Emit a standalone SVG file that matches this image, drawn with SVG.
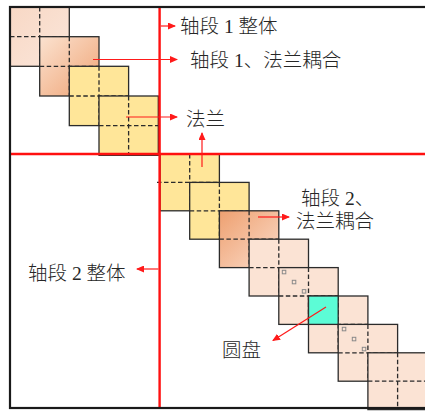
<svg xmlns="http://www.w3.org/2000/svg" width="425" height="411" viewBox="0 0 425 411">
<style>
.blk{stroke:#2b2b2b;stroke-width:1.3}
.dash{stroke:#2b2b2b;stroke-width:1.3;stroke-dasharray:4.5 2.5;fill:none}
.pe{fill:#fbe3d4}
.ye{fill:#ffe699}
.red{stroke:#ff1010;stroke-width:2.4;fill:none}
.arr{stroke:#ff1a1a;stroke-width:1.2;fill:none;marker-end:url(#ah)}
.sq{fill:none;stroke:#8a8a8a;stroke-width:1}
text{font-family:"Liberation Serif","Noto Sans CJK SC",serif;font-size:19.5px;font-weight:300;fill:#262626}
</style>
<defs>
<linearGradient id="gU" x1="0" y1="0" x2="1" y2="1"><stop offset="0" stop-color="#fbe2d0"/><stop offset="1" stop-color="#efa374"/></linearGradient>
<linearGradient id="gL" x1="0" y1="0" x2="1" y2="1"><stop offset="0" stop-color="#eea070"/><stop offset="1" stop-color="#fbdcca"/></linearGradient>
<linearGradient id="gP" x1="0" y1="0" x2="1" y2="1"><stop offset="0" stop-color="#f8d8c5"/><stop offset="1" stop-color="#fbe6da"/></linearGradient>
<marker id="ah" markerWidth="8" markerHeight="7" refX="7" refY="3.5" orient="auto" markerUnits="userSpaceOnUse"><path d="M0,0 L8,3.5 L0,7 z" fill="#ff1a1a"/></marker>
</defs>
<rect x="0" y="0" width="425" height="411" fill="#ffffff"/>

<!-- upper blocks -->
<g id="u0"><rect class="blk" x="10" y="7" width="59.3" height="59.3" fill="url(#gP)"/><path class="dash" d="M39.7,7V66.3M10,36.7H69.3"/></g>
<g id="u1"><rect class="blk" x="39.7" y="36.7" width="59.3" height="59.3" fill="url(#gU)"/><path class="dash" d="M69.3,36.7V96M39.7,66.3H99"/></g>
<g id="u2"><rect class="blk ye" x="69.3" y="66.3" width="59.3" height="59.3"/><path class="dash" d="M99,66.3V125.6M69.3,96H128.6"/></g>
<g id="u3"><rect class="blk ye" x="99" y="96" width="59.3" height="59.3"/><path class="dash" d="M128.6,96V155.3M99,125.6H158.3"/></g>

<!-- lower blocks -->
<g id="l0"><rect class="blk ye" x="160" y="154" width="59.4" height="56.8"/><path class="dash" d="M189.7,154V210.8M157,182.4H219.4"/></g>
<g id="l1"><rect class="blk ye" x="189.7" y="182.4" width="59.4" height="56.8"/><path class="dash" d="M219.4,182.4V239.2M189.7,210.8H249.1"/></g>
<g id="l2"><rect class="blk" x="219.4" y="210.8" width="59.4" height="56.8" fill="url(#gL)"/><path class="dash" d="M249.1,210.8V267.6M219.4,239.2H278.8"/></g>
<g id="l3"><rect class="blk pe" x="249.1" y="239.2" width="59.4" height="56.8"/><path class="dash" d="M278.8,239.2V296M249.1,267.6H308.5"/></g>
<g id="l4"><rect class="blk pe" x="278.8" y="267.6" width="59.4" height="56.8"/><path class="dash" d="M308.5,267.6V324.4M278.8,296H338.2"/>
<rect class="sq" x="282.3" y="270.3" width="3.5" height="3.5"/><rect class="sq" x="292.3" y="280.3" width="3.5" height="3.5"/><rect class="sq" x="302.3" y="289.6" width="3.5" height="3.5"/></g>
<g id="l5"><rect class="blk pe" x="308.5" y="296" width="59.4" height="56.8"/><path class="dash" d="M338.2,296V352.8M308.5,324.4H367.9"/></g>
<g id="disk"><rect class="blk" x="308.5" y="296" width="29.7" height="28.4" fill="#5cfcd6"/></g>
<g id="l6"><rect class="blk pe" x="338.2" y="324.4" width="59.4" height="56.8"/><path class="dash" d="M367.9,324.4V381.2M338.2,352.8H397.6"/>
<rect class="sq" x="342.3" y="327.3" width="3.5" height="3.5"/><rect class="sq" x="352.3" y="337.3" width="3.5" height="3.5"/><rect class="sq" x="362.3" y="347.3" width="3.5" height="3.5"/></g>
<g id="l7"><rect class="blk pe" x="367.9" y="352.8" width="59.4" height="56.8"/><path class="dash" d="M397.6,352.8V409.6M367.9,381.2H427.3"/></g>

<!-- red division lines -->
<g id="dividers">
<path class="red" d="M159.6,7V408"/>
<path class="red" d="M10,154H425"/>
</g>

<!-- frame -->
<rect x="10" y="7" width="420" height="401" fill="none" stroke="#1a1a1a" stroke-width="2.2"/>

<!-- connectors -->
<g id="connectors">
<path class="arr" d="M160.8,26H175"/>
<path class="arr" d="M93,59.5H177"/>
<path class="arr" d="M126,117H177"/>
<path class="arr" d="M202,167V133"/>
<path class="arr" d="M258,217H289"/>
<path class="arr" d="M158.4,269H137"/>
<path class="arr" d="M326,307L273,340.5"/>
</g>

<!-- labels -->
<g id="lbl-shaft1"><text x="180" y="32.5">轴段 1 整体</text></g>
<g id="lbl-shaft1-flange"><text x="190" y="66.5">轴段 1、法兰耦合</text></g>
<g id="lbl-flange"><text x="186" y="126">法兰</text></g>
<g id="lbl-shaft2-flange"><text x="301" y="205">轴段 2、</text><text x="296" y="228">法兰耦合</text></g>
<g id="lbl-shaft2"><text x="28" y="279.5">轴段 2 整体</text></g>
<g id="lbl-disk"><text x="222" y="357">圆盘</text></g>
</svg>
